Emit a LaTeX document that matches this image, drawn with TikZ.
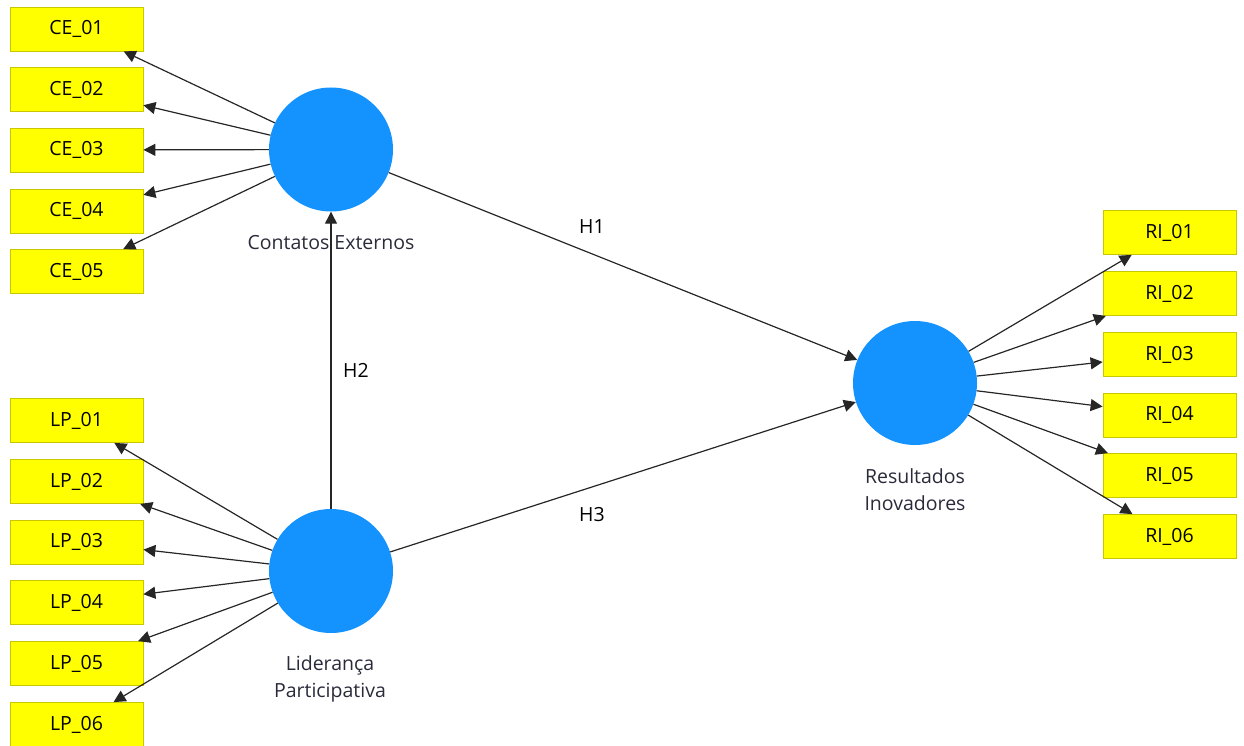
\documentclass[tikz,border=0pt]{standalone}
\usepackage{fontspec}
\setmainfont{Open Sans}
\usetikzlibrary{arrows.meta}
\definecolor{indfill}{HTML}{FFFF00}
\definecolor{indline}{HTML}{C8C800}
\definecolor{latfill}{HTML}{1493FF}
\definecolor{labtext}{HTML}{2A2A3A}
\tikzset{
  indicator/.style={rectangle, fill=indfill, draw=indline, line width=0.8pt,
    minimum width=133pt, minimum height=44pt, inner sep=0pt,
    font=\fontsize{19.5}{22}\selectfont},
  latent/.style={circle, fill=latfill, draw=none, minimum size=124pt, inner sep=0pt},
  latlabel/.style={align=center, text=labtext, font=\fontsize{19.5}{27}\selectfont},
  hyp/.style={font=\fontsize{19.5}{22}\selectfont},
  link/.style={draw=black!85, line width=1.2pt, -{Triangle[length=12pt,width=12pt]}}
}
\begin{document}
\begin{tikzpicture}[x=1pt,y=-1pt]
\useasboundingbox (0,0) rectangle (1244,746);

% latent constructs
\node[latent] (ce) at (331,149.5) {};
\node[latent] (lp) at (331,571) {};
\node[latent] (ri) at (915,383) {};

\node[latlabel] (celab) at (331,243) {Contatos Externos};
\node[latlabel] (lplab) at (330,678.5) {Liderança\\Participativa};
\node[latlabel] (rilab) at (915,490) {Resultados\\Inovadores};

% indicators of Contatos Externos
\node[indicator] (ce1) at (76.5,29)    {CE\_01};
\node[indicator] (ce2) at (76.5,89.5)  {CE\_02};
\node[indicator] (ce3) at (76.5,150)   {CE\_03};
\node[indicator] (ce4) at (76.5,211)   {CE\_04};
\node[indicator] (ce5) at (76.5,271.5) {CE\_05};

% indicators of Liderança Participativa
\node[indicator] (lp1) at (76.5,420.5) {LP\_01};
\node[indicator] (lp2) at (76.5,481.5) {LP\_02};
\node[indicator] (lp3) at (76.5,542)   {LP\_03};
\node[indicator] (lp4) at (76.5,602.5) {LP\_04};
\node[indicator] (lp5) at (76.5,663.5) {LP\_05};
\node[indicator] (lp6) at (76.5,724.5) {LP\_06};

% indicators of Resultados Inovadores
\node[indicator] (ri1) at (1169.5,232.5) {RI\_01};
\node[indicator] (ri2) at (1169.5,293.5) {RI\_02};
\node[indicator] (ri3) at (1169.5,354.5) {RI\_03};
\node[indicator] (ri4) at (1169.5,415)   {RI\_04};
\node[indicator] (ri5) at (1169.5,475.5) {RI\_05};
\node[indicator] (ri6) at (1169.5,536.5) {RI\_06};

% outer model
\foreach \i in {1,...,5} \draw[link] (ce) -- (ce\i);
\foreach \i in {1,...,6} \draw[link] (lp) -- (lp\i);
\foreach \i in {1,...,6} \draw[link] (ri) -- (ri\i);

% inner model
\draw[link] (ce) -- (ri);
\draw[link] (lp) -- (ce);
\draw[link] (lp) -- (ri);

\node[hyp] (h1) at (592,227) {H1};
\node[hyp] (h2) at (356,370) {H2};
\node[hyp] (h3) at (592,515) {H3};
\end{tikzpicture}
\end{document}
